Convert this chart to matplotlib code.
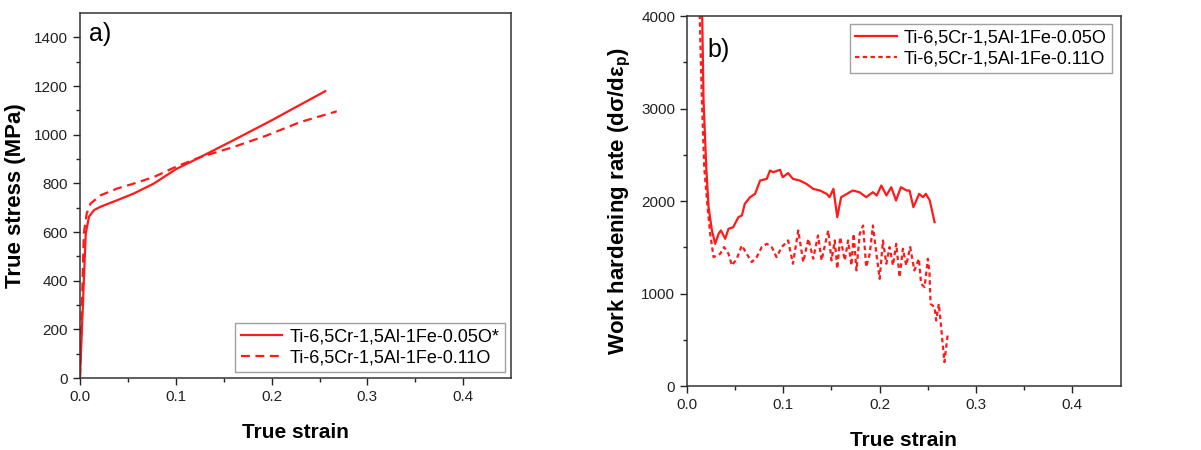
import numpy as np
import matplotlib.pyplot as plt

plt.rcParams['font.family'] = ['Liberation Sans', 'DejaVu Sans']
plt.rcParams['mathtext.fontset'] = 'custom'
plt.rcParams['mathtext.bf'] = 'Liberation Sans:bold'

RED = '#ff1a1a'

# a) true stress-strain curves
strain_05 = [0.0, 0.006, 0.0094, 0.0146, 0.0215, 0.039, 0.056, 0.077, 0.1, 0.1257,
             0.16, 0.2, 0.256]
stress_05 = [0, 594, 663, 690, 704, 731, 758, 799, 858, 908, 977, 1059, 1179]

strain_11 = [0.0, 0.004, 0.007, 0.011, 0.0215, 0.039, 0.056, 0.077, 0.1, 0.1257,
             0.16, 0.195, 0.23, 0.268]
stress_11 = [0, 594, 676, 717, 751, 779, 799, 826, 868, 908, 949, 997, 1052, 1096]

# b) work hardening rate
wh_strain_05 = [0.015, 0.0172, 0.020, 0.0224, 0.0259, 0.0293, 0.0328, 0.0352, 0.0397,
                0.0431, 0.048, 0.0534, 0.057, 0.060, 0.0655, 0.0707, 0.0759, 0.0828,
                0.0862, 0.0897, 0.0966, 0.0993, 0.105, 0.110, 0.117, 0.124, 0.131,
                0.138, 0.145, 0.148, 0.152, 0.156, 0.160, 0.166, 0.172, 0.179, 0.186,
                0.193, 0.197, 0.2017, 0.207, 0.212, 0.217, 0.222, 0.228, 0.231, 0.235,
                0.241, 0.245, 0.248, 0.252, 0.257]
wh_rate_05 = [4500, 3088, 2368, 1935, 1683, 1539, 1647, 1683, 1593, 1701, 1719, 1827,
              1845, 1971, 2043, 2079, 2223, 2241, 2331, 2313, 2339, 2259, 2303, 2241,
              2223, 2187, 2133, 2115, 2079, 2043, 2133, 1827, 2043, 2079, 2115, 2097,
              2043, 2097, 2061, 2169, 2061, 2151, 2007, 2151, 2115, 2115, 1935, 2079,
              2043, 2079, 2007, 1773]

wh_strain_11 = [0.012, 0.0155, 0.0179, 0.0214, 0.0241, 0.0276, 0.031, 0.0345, 0.0386,
                0.0431, 0.0466, 0.0517, 0.0569, 0.062, 0.0672, 0.0724, 0.0776, 0.0828,
                0.088, 0.093, 0.0983, 0.105, 0.110, 0.1155, 0.1207, 0.126, 0.131,
                0.136, 0.1397, 0.1466, 0.150, 0.1534, 0.156, 0.159, 0.1638, 0.1672,
                0.1707, 0.173, 0.1759, 0.1793, 0.1828, 0.186, 0.1897, 0.193, 0.1966,
                0.2, 0.2034, 0.2069, 0.2103, 0.2138, 0.2172, 0.2207, 0.2241, 0.2276,
                0.2317, 0.236, 0.2407, 0.243, 0.2466, 0.25, 0.2517, 0.2528, 0.2569,
                0.2586, 0.2614, 0.2638, 0.2672, 0.2707]
wh_rate_11 = [4500, 3088, 2368, 1935, 1647, 1395, 1413, 1431, 1503, 1431, 1305, 1377,
              1521, 1431, 1341, 1395, 1503, 1539, 1503, 1395, 1503, 1575, 1323, 1683,
              1341, 1593, 1377, 1629, 1359, 1683, 1359, 1575, 1269, 1611, 1359, 1575,
              1305, 1647, 1251, 1647, 1737, 1287, 1431, 1737, 1431, 1160, 1575, 1323,
              1503, 1305, 1539, 1178, 1485, 1305, 1503, 1251, 1377, 1106, 1070, 1377,
              1233, 890, 855, 710, 890, 638, 259, 566]


def style_axes(ax, xlab, ylab):
    ax.set_xlim(0, 0.45)
    ax.set_xticks([0.0, 0.1, 0.2, 0.3, 0.4])
    ax.set_xticks(np.arange(0.05, 0.45, 0.1), minor=True)
    ax.xaxis.set_major_formatter(plt.FuncFormatter(lambda v, p: f"{v:.1f}"))
    ax.tick_params(which='major', direction='out', length=5, width=1.0,
                   labelsize=11, colors='#222222', top=False, right=False)
    ax.tick_params(which='minor', direction='out', length=3, width=1.0,
                   top=False, right=False, colors='#222222')
    for s in ax.spines.values():
        s.set_linewidth(1.1)
        s.set_color('#333333')
    ax.set_xlabel(xlab, fontsize=15, fontweight='bold', labelpad=14)
    ax.set_ylabel(ylab, fontsize=16, fontweight='bold', labelpad=6)


fig = plt.figure(figsize=(12.01, 4.5), dpi=100)

ax1 = fig.add_axes([0.0666, 0.16, 0.359, 0.811])
ax1.plot(strain_05, stress_05, color=RED, lw=1.6, label='Ti-6,5Cr-1,5Al-1Fe-0.05O*')
ax1.plot(strain_11, stress_11, color=RED, lw=1.6, linestyle=(0, (4, 2.5)),
         label='Ti-6,5Cr-1,5Al-1Fe-0.11O')
ax1.set_ylim(0, 1500)
ax1.set_yticks(np.arange(0, 1401, 200))
ax1.set_yticks(np.arange(100, 1500, 200), minor=True)
style_axes(ax1, 'True strain', 'True stress (MPa)')
ax1.text(0.02, 0.975, 'a)', transform=ax1.transAxes, fontsize=18, va='top')
leg1 = ax1.legend(loc='lower right', fontsize=13, frameon=True, fancybox=False,
                  edgecolor='#888888', borderaxespad=0.35, handlelength=2.3,
                  borderpad=0.3, labelspacing=0.2, handletextpad=0.4)
leg1.get_frame().set_linewidth(1.0)

ax2 = fig.add_axes([0.572, 0.142, 0.361, 0.822])
ax2.plot(wh_strain_05, wh_rate_05, color=RED, lw=1.6, label='Ti-6,5Cr-1,5Al-1Fe-0.05O')
ax2.plot(wh_strain_11, wh_rate_11, color=RED, lw=1.6, linestyle=(0, (2, 1.5)),
         label='Ti-6,5Cr-1,5Al-1Fe-0.11O')
ax2.set_ylim(0, 4000)
ax2.set_yticks(np.arange(0, 4001, 1000))
ax2.set_yticks(np.arange(500, 4000, 1000), minor=True)
style_axes(ax2, 'True strain', r'Work hardening rate (d$\mathbf{\sigma}$/d$\mathbf{\varepsilon}_\mathbf{p}$)')
ax2.text(0.048, 0.94, 'b)', transform=ax2.transAxes, fontsize=18, va='top')
leg2 = ax2.legend(loc='upper right', fontsize=13, frameon=True, fancybox=False,
                  edgecolor='#888888', borderaxespad=0.45, handlelength=2.3,
                  borderpad=0.3, labelspacing=0.2, handletextpad=0.4)
leg2.get_frame().set_linewidth(1.0)

fig.savefig('out.png', dpi=100)
